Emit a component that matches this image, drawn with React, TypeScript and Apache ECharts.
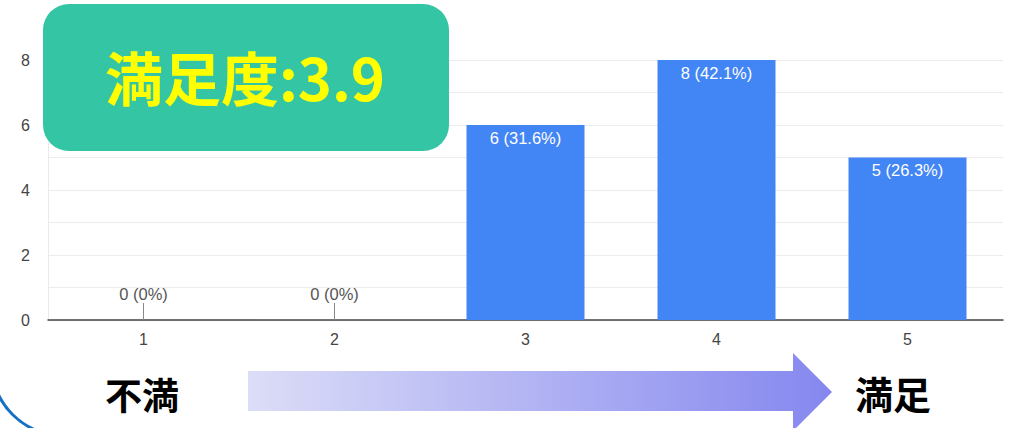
import React, { useEffect, useRef } from "react";
import * as echarts from "echarts";

const categories = ["1", "2", "3", "4", "5"];
const counts = [0, 0, 6, 8, 5];
const yTicks = [0, 2, 4, 6, 8];
const badgeText = "満足度:3.9";
const leftText = "不満";
const rightText = "満足";

const total = counts.reduce((a, b) => a + b, 0);
const pctLabel = (v: number) => {
  const p = (v / total) * 100;
  return `${v} (${p === 0 ? "0" : p.toFixed(1)}%)`;
};

export default function App() {
  const ref = useRef<HTMLDivElement>(null);
  useEffect(() => {
    if (!ref.current) return;
    const chart = echarts.init(ref.current, undefined, { renderer: "svg" });
    const font = "Arial, 'Liberation Sans', sans-serif";
    chart.setOption({
      animation: false,
      grid: { left: 48, right: 6, top: 60, bottom: 108, containLabel: false },
      xAxis: {
        type: "category",
        data: categories,
        axisLine: { lineStyle: { color: "#444", width: 1.5 } },
        axisTick: { show: false },
        axisLabel: { color: "#444", fontSize: 16, fontFamily: font, margin: 11 },
      },
      yAxis: {
        type: "value",
        min: yTicks[0],
        max: yTicks[yTicks.length - 1],
        interval: 1,
        axisLine: { show: true, lineStyle: { color: "#eaeaea" } },
        axisTick: { show: false },
        splitLine: { lineStyle: { color: "#ececec" } },
        axisLabel: {
          color: "#444",
          fontSize: 16,
          fontFamily: font,
          margin: 18,
          formatter: (v: number) => (yTicks.includes(v) ? String(v) : ""),
        },
      },
      series: [
        {
          type: "bar",
          barWidth: 118,
          itemStyle: { color: "#4285F4" },
          data: counts.map((v) =>
            v === 0
              ? {
                  value: v,
                  label: { position: "top", color: "#555", distance: 18 },
                }
              : { value: v }
          ),
          label: {
            show: true,
            position: "insideTop",
            distance: 4,
            color: "#fff",
            fontSize: 16.5,
            fontFamily: font,
            formatter: (p: any) => pctLabel(p.value),
          },
        },
        {
          type: "custom",
          data: counts.map((v, i) => [i, v]),
          renderItem: (params: any, api: any) => {
            if (api.value(1) !== 0) return null;
            const p = api.coord([api.value(0), 0]);
            return {
              type: "line",
              shape: { x1: p[0], y1: p[1], x2: p[0], y2: p[1] - 17 },
              style: { stroke: "#888", lineWidth: 1 },
            };
          },
          z: 5,
        },
      ],
      graphic: [
        {
          type: "rect",
          shape: { x: 43, y: 4, width: 406, height: 147, r: 26 },
          style: { fill: "#34C6A4" },
          z: 10,
        },
        {
          type: "text",
          x: 245,
          y: 76,
          style: {
            text: badgeText,
            fill: "#FFFF00",
            font: "bold 58px 'Noto Sans CJK JP', sans-serif",
            align: "center",
            verticalAlign: "middle",
          },
          z: 11,
        },
        {
          type: "text",
          x: 142,
          y: 394,
          style: {
            text: leftText,
            fill: "#000",
            font: "bold 37px 'Noto Sans CJK JP', sans-serif",
            align: "center",
            verticalAlign: "middle",
          },
        },
        {
          type: "text",
          x: 893,
          y: 392,
          style: {
            text: rightText,
            fill: "#000",
            font: "bold 38px 'Noto Sans CJK JP', sans-serif",
            align: "center",
            verticalAlign: "middle",
          },
        },
        {
          type: "polygon",
          shape: {
            points: [
              [248, 371],
              [793, 371],
              [793, 353],
              [832, 392],
              [793, 431],
              [793, 411],
              [248, 411],
            ],
          },
          style: {
            fill: new echarts.graphic.LinearGradient(0, 0, 1, 0, [
              { offset: 0, color: "#DCDDF7" },
              { offset: 1, color: "#8587EF" },
            ]),
          },
        },
        {
          type: "arc",
          shape: { cx: 62, cy: 365, r: 70, startAngle: Math.PI / 2, endAngle: Math.PI, clockwise: true },
          style: { stroke: "#1670C6", lineWidth: 3, fill: "none" },
        },
      ],
    });
    return () => chart.dispose();
  }, []);
  return (
    <div
      ref={ref}
      style={{ position: "fixed", left: 0, top: 0, width: 1009, height: 428, background: "#fff" }}
    />
  );
}
